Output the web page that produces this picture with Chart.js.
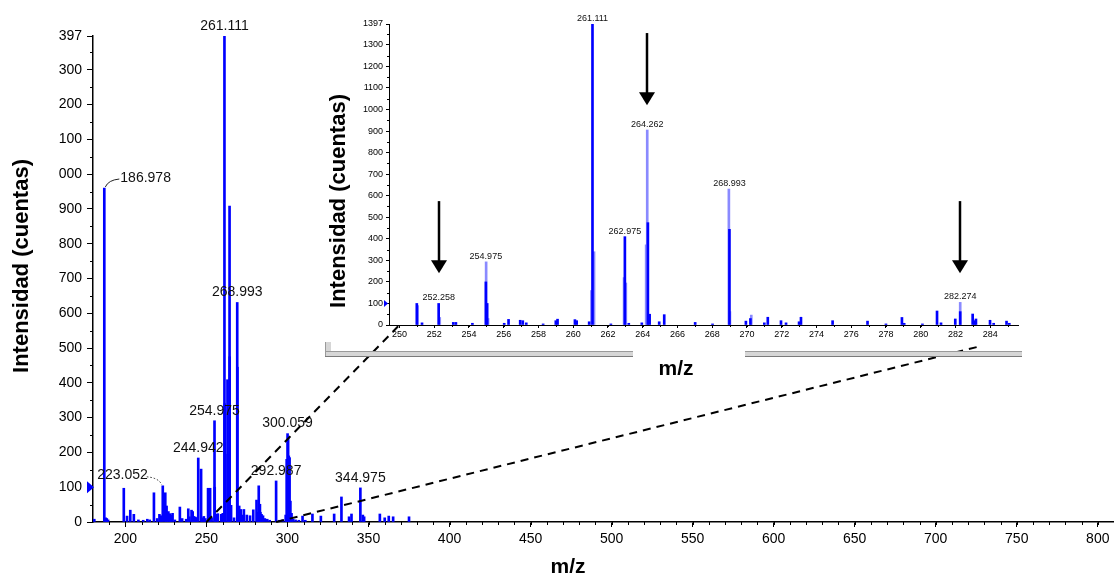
<!DOCTYPE html>
<html>
<head>
<meta charset="utf-8">
<script src="https://cdn.jsdelivr.net/npm/chart.js@4.4.0/dist/chart.umd.min.js"></script>
<style>
html, body { margin: 0; padding: 0; background: #fff; }
#wrap { position: relative; width: 1114px; height: 580px; overflow: hidden; }
#main { position: absolute; left: 0; top: 0; }
#inset { position: absolute; left: 300px; top: 0; }
</style>
</head>
<body>
<div id="wrap">
  <canvas id="main" width="1114" height="580"></canvas>
  <canvas id="inset" width="740" height="380"></canvas>
</div>
<script>
const FONT = 'Arial, "Liberation Sans", sans-serif';

// espectro completo (m/z, intensidad)
const mainMz = [180.8, 186.978, 187.8, 188.5, 189.3, 199.0, 201.0, 203.0, 205.2, 208.0, 211.0, 213.5, 215.0,
  217.6, 219.6, 221.0, 222.0, 223.052, 224.6, 225.4, 226.5, 227.4, 228.1, 229.1, 230.5, 233.6, 235.0, 237.5,
  238.8, 239.5, 240.8, 241.5, 242.3, 243.2, 244.0, 244.942, 246.7, 247.5, 248.4, 249.3, 251.0, 252.258, 253.2,
  254.975, 255.1, 256.3, 257.0, 259.1, 260.1, 261.111, 261.25, 262.975, 263.1, 264.262, 264.35, 265.2, 267.0,
  268.993, 269.1, 270.2, 271.2, 272.0, 273.1, 274.9, 276.9, 278.9, 280.9, 281.9, 282.274, 283.0, 283.3, 284.0,
  284.9, 286.0, 287.5, 289.0, 292.987, 295.0, 297.0, 298.9, 299.5, 300.059, 300.4, 300.8, 301.3, 301.8, 302.5,
  303.5, 305.0, 307.0, 309.3, 311.0, 315.4, 320.6, 328.8, 333.3, 338.0, 339.5, 344.975, 346.5, 347.3, 357.0,
  360.0, 362.5, 365.2, 375.0];
const mainInt = [8, 960, 12, 10, 6, 97, 17, 34, 22, 6, 5, 8, 6,
  84, 10, 22, 18, 104, 84, 46, 30, 24, 20, 25, 6, 43, 10, 8,
  38, 15, 34, 30, 16, 14, 12, 184, 152, 12, 16, 10, 97, 97, 12,
  291, 100, 22, 24, 22, 25, 1397, 340, 409, 195, 908, 475, 48, 12,
  631, 445, 46, 36, 20, 36, 20, 18, 35, 63, 28, 104, 51, 28, 22,
  18, 10, 8, 5, 118, 5, 6, 20, 180, 254, 245, 190, 185, 60, 25,
  8, 6, 5, 17, 5, 23, 17, 23, 72, 15, 23, 98, 20, 15, 23,
  12, 17, 15, 15];
const mainPeakLabels = [186.978, 223.052, 244.942, 254.975, 261.111, 268.993, 292.987, 300.059, 344.975];

const mainXTicks = [200, 250, 300, 350, 400, 450, 500, 550, 600, 650, 700, 750, 800];
const mainYTicks = [0, 100, 200, 300, 400, 500, 600, 700, 800, 900, 1000, 1100, 1200, 1300, 1397];
const mainYTickLabels = ['0', '100', '200', '300', '400', '500', '600', '700', '800', '900', '000', '100', '200', '300', '397'];

// ampliación 249-286
const insetMz = [251.0, 251.3, 252.258, 253.1, 253.25, 254.2, 254.975, 255.05, 256.03, 256.28, 256.95, 257.1, 257.3,
  258.27, 259.0, 259.1, 260.1, 260.2, 260.92, 261.111, 262.17, 262.975, 263.2, 263.95, 264.3, 264.4, 264.95, 265.24,
  267.02, 268.02, 268.993, 269.94, 270.2, 271.0, 271.2, 271.96, 272.25, 273.0, 273.11, 274.93, 276.94, 278.0,
  278.92, 279.05, 280.1, 280.94, 281.17, 281.99, 282.274, 282.99, 283.1, 283.18, 283.99, 284.2, 284.94, 285.1];
const insetInt = [100, 10, 100, 12, 12, 8, 200, 100, 8, 26, 22, 20, 10,
  5, 20, 27, 25, 20, 15, 1397, 5, 410, 8, 10, 475, 50, 15, 48,
  12, 5, 444, 18, 30, 10, 36, 20, 10, 15, 36, 20, 18, 5,
  35, 8, 5, 65, 10, 28, 62, 51, 20, 28, 22, 8, 18, 8];
const insetProfMz = [251.05, 252.32, 254.99, 255.1, 261.05, 261.2, 262.93, 263.03, 264.2, 264.262, 268.96, 269.02, 270.25, 282.274];
const insetProfInt = [90, 35, 293, 30, 160, 340, 220, 195, 372, 905, 631, 62, 46, 105];
const insetPeakLabels = [252.258, 254.975, 261.111, 262.975, 264.262, 268.993, 282.274];
const insetArrows = [[252.258, 575, 240], [264.262, 1355, 1020], [282.274, 575, 240]];

const insetXTicks = [250, 252, 254, 256, 258, 260, 262, 264, 266, 268, 270, 272, 274, 276, 278, 280, 282, 284];
const insetYTicks = [0, 100, 200, 300, 400, 500, 600, 700, 800, 900, 1000, 1100, 1200, 1300, 1397];

// lineas de zoom: [m/z principal, m/z ampliado, intensidad ampliada]
const zoomLinks = [[250, 250, 0], [293, 283.26, -102]];

function toPoints(xs, ys) {
    return xs.map((x, i) => ({ x: x, y: ys[i] }));
}

function peakTop(lists, mz) {
    let best = 0;
    lists.forEach(([xs, ys]) => {
        xs.forEach((m, i) => {
            if (Math.abs(m - mz) < 0.06 && ys[i] > best) best = ys[i];
        });
    });
    return best;
}

function minorTicks(ctx, scale, from, to, step, len, horizontal) {
    ctx.save();
    ctx.strokeStyle = '#000';
    ctx.lineWidth = 1;
    ctx.beginPath();
    const n = Math.round((to - from) / step);
    for (let i = 0; i <= n; i++) {
        const p = Math.round(scale.getPixelForValue(from + i * step)) + 0.5;
        if (horizontal) {
            ctx.moveTo(p, scale.top);
            ctx.lineTo(p, scale.top + len);
        } else {
            ctx.moveTo(scale.right, p);
            ctx.lineTo(scale.right - len, p);
        }
    }
    ctx.stroke();
    ctx.restore();
}

function rotatedText(ctx, text, x, y, font) {
    ctx.save();
    ctx.translate(x, y);
    ctx.rotate(-Math.PI / 2);
    ctx.font = font;
    ctx.fillStyle = '#000';
    ctx.textAlign = 'center';
    ctx.textBaseline = 'middle';
    ctx.fillText(text, 0, 0);
    ctx.restore();
}

function marker(ctx, x, y, w, h) {
    ctx.save();
    ctx.fillStyle = '#0000ff';
    ctx.beginPath();
    ctx.moveTo(x - w, y - h);
    ctx.lineTo(x, y);
    ctx.lineTo(x - w, y + h);
    ctx.closePath();
    ctx.fill();
    ctx.restore();
}

function axisStyle(size, tickLen, pad) {
    return {
        grid: { drawOnChartArea: false, offset: false, tickLength: tickLen, tickColor: '#000', tickWidth: 1 },
        border: { color: '#000', width: 1.5 },
        ticks: { font: { family: FONT, size: size }, color: '#000', padding: pad, maxRotation: 0, autoSkip: false }
    };
}

// ---------- inserto ----------
const insetDecor = {
    id: 'insetDecor',
    afterDraw(chart) {
        const ctx = chart.ctx;
        const xs = chart.scales.x, ys = chart.scales.y;
        minorTicks(ctx, xs, 250, 285, 1, 2, true);
        minorTicks(ctx, ys, 50, 1350, 100, 2, false);

        // marco gris
        ctx.save();
        ctx.fillStyle = '#d6d6d6';
        ctx.fillRect(25, 351, 308, 6);
        ctx.fillRect(445, 351, 277, 6);
        ctx.fillRect(25, 342, 6, 15);
        ctx.strokeStyle = '#9a9a9a';
        ctx.lineWidth = 1;
        ctx.beginPath();
        ctx.moveTo(25, 351.5); ctx.lineTo(333, 351.5);
        ctx.moveTo(445, 351.5); ctx.lineTo(722, 351.5);
        ctx.moveTo(25.5, 342); ctx.lineTo(25.5, 357);
        ctx.stroke();
        ctx.strokeStyle = '#7a7a7a';
        ctx.beginPath();
        ctx.moveTo(25, 356.5); ctx.lineTo(333, 356.5);
        ctx.moveTo(445, 356.5); ctx.lineTo(722, 356.5);
        ctx.stroke();
        ctx.restore();

        rotatedText(ctx, 'Intensidad (cuentas)', 39, 201, 'bold 22px ' + FONT);
        ctx.save();
        ctx.font = 'bold 21px ' + FONT;
        ctx.fillStyle = '#000';
        ctx.textAlign = 'center';
        ctx.textBaseline = 'middle';
        ctx.fillText('m/z', 376, 369);
        ctx.restore();

        marker(ctx, xs.left - 1, ys.getPixelForValue(100), 4, 3.5);

        // etiquetas de picos
        ctx.save();
        ctx.font = '9px ' + FONT;
        ctx.fillStyle = '#111';
        ctx.textAlign = 'center';
        ctx.textBaseline = 'bottom';
        insetPeakLabels.forEach(mz => {
            const top = peakTop([[insetMz, insetInt], [insetProfMz, insetProfInt]], mz);
            ctx.fillText(mz.toFixed(3), xs.getPixelForValue(mz), ys.getPixelForValue(top) - 1);
        });
        ctx.restore();

        // flechas
        ctx.save();
        ctx.fillStyle = '#000';
        ctx.strokeStyle = '#000';
        ctx.lineWidth = 2.5;
        insetArrows.forEach(([mz, from, to]) => {
            const x = Math.round(xs.getPixelForValue(mz));
            const y0 = ys.getPixelForValue(from), y1 = ys.getPixelForValue(to);
            ctx.beginPath();
            ctx.moveTo(x, y0);
            ctx.lineTo(x, y1 - 10);
            ctx.stroke();
            ctx.beginPath();
            ctx.moveTo(x - 8, y1 - 13);
            ctx.lineTo(x + 8, y1 - 13);
            ctx.lineTo(x, y1);
            ctx.closePath();
            ctx.fill();
        });
        ctx.restore();
    }
};

const insetAxes = {
    x: Object.assign({ type: 'linear', min: 249.4, max: 285.6, offset: false }, axisStyle(9, 3, 1)),
    y: Object.assign({ type: 'linear', min: 0, max: 1397 }, axisStyle(9, 3, 3))
};
insetAxes.x.border.width = 1;
insetAxes.y.border.width = 1;
insetAxes.x.afterBuildTicks = s => { s.ticks = insetXTicks.map(v => ({ value: v })); };
insetAxes.x.afterFit = s => { s.height = 55; };
insetAxes.x.ticks.callback = v => String(v);
insetAxes.y.afterBuildTicks = s => { s.ticks = insetYTicks.map(v => ({ value: v })); };
insetAxes.y.afterFit = s => { s.width = 89; };
insetAxes.y.ticks.callback = v => String(v);

const insetChart = new Chart(document.getElementById('inset'), {
    type: 'bar',
    data: {
        datasets: [
            { data: toPoints(insetMz, insetInt), backgroundColor: '#0000ff', barThickness: 2, grouped: false },
            { data: toPoints(insetProfMz, insetProfInt), backgroundColor: '#8a8aff', barThickness: 2, grouped: false }
        ]
    },
    options: {
        responsive: false,
        animation: false,
        events: [],
        layout: { padding: { top: 24, right: 22, left: 0, bottom: 0 } },
        plugins: { legend: { display: false }, tooltip: { enabled: false } },
        scales: insetAxes
    },
    plugins: [insetDecor]
});

// ---------- espectro principal ----------
const mainDecor = {
    id: 'mainDecor',
    afterDraw(chart) {
        const ctx = chart.ctx;
        const xs = chart.scales.x, ys = chart.scales.y;
        minorTicks(ctx, xs, 190, 800, 10, 3, true);
        minorTicks(ctx, ys, 50, 1350, 100, 3, false);

        rotatedText(ctx, 'Intensidad (cuentas)', 22, 266, 'bold 22px ' + FONT);
        ctx.save();
        ctx.font = 'bold 21px ' + FONT;
        ctx.fillStyle = '#000';
        ctx.textAlign = 'center';
        ctx.textBaseline = 'middle';
        ctx.fillText('m/z', 568, 567);
        ctx.restore();

        marker(ctx, xs.left + 1, ys.getPixelForValue(100), 7, 6);

        // etiquetas de picos
        ctx.save();
        ctx.font = '14px ' + FONT;
        ctx.fillStyle = '#111';
        ctx.strokeStyle = '#222';
        ctx.lineWidth = 1;
        mainPeakLabels.forEach(mz => {
            const x = xs.getPixelForValue(mz);
            const y = ys.getPixelForValue(peakTop([[mainMz, mainInt]], mz));
            const txt = mz.toFixed(3);
            if (mz === 186.978) {
                ctx.beginPath();
                ctx.moveTo(x + 1, y - 1);
                ctx.quadraticCurveTo(x + 4, y - 8, x + 15, y - 9);
                ctx.stroke();
                ctx.textAlign = 'left';
                ctx.textBaseline = 'middle';
                ctx.fillText(txt, x + 16, y - 10);
            } else if (mz === 223.052) {
                ctx.save();
                ctx.setLineDash([1.5, 2]);
                ctx.beginPath();
                ctx.moveTo(x - 16, y - 9);
                ctx.quadraticCurveTo(x - 4, y - 8, x - 1, y - 1);
                ctx.stroke();
                ctx.restore();
                ctx.textAlign = 'right';
                ctx.textBaseline = 'middle';
                ctx.fillText(txt, x - 15, y - 11);
            } else {
                ctx.textAlign = 'center';
                ctx.textBaseline = 'bottom';
                ctx.fillText(txt, x, y - 3);
            }
        });
        ctx.restore();

        // lineas discontinuas hacia la ampliación
        const ix = insetChart.scales.x, iy = insetChart.scales.y;
        const off = document.getElementById('inset').offsetLeft;
        ctx.save();
        ctx.strokeStyle = '#000';
        ctx.lineWidth = 2;
        ctx.setLineDash([8, 6]);
        zoomLinks.forEach(([m0, m1, v1]) => {
            ctx.beginPath();
            ctx.moveTo(xs.getPixelForValue(m0), ys.getPixelForValue(0));
            ctx.lineTo(off + ix.getPixelForValue(m1), iy.getPixelForValue(v1));
            ctx.stroke();
        });
        ctx.restore();
    }
};

const mainAxes = {
    x: Object.assign({ type: 'linear', min: 180, max: 810, offset: false }, axisStyle(14, 5, 4)),
    y: Object.assign({ type: 'linear', min: 0, max: 1397 }, axisStyle(14, 6, 5))
};
mainAxes.x.afterBuildTicks = s => { s.ticks = mainXTicks.map(v => ({ value: v })); };
mainAxes.x.afterFit = s => { s.height = 58; };
mainAxes.x.ticks.callback = v => String(v);
mainAxes.y.afterBuildTicks = s => { s.ticks = mainYTicks.map(v => ({ value: v })); };
mainAxes.y.afterFit = s => { s.width = 93; };
mainAxes.y.ticks.callback = (v, i) => mainYTickLabels[i];

const mainChart = new Chart(document.getElementById('main'), {
    type: 'bar',
    data: {
        datasets: [
            { data: toPoints(mainMz, mainInt), backgroundColor: '#0000ff', barThickness: 2, grouped: false }
        ]
    },
    options: {
        responsive: false,
        animation: false,
        events: [],
        layout: { padding: { top: 36, right: 0, left: 0, bottom: 0 } },
        plugins: { legend: { display: false }, tooltip: { enabled: false } },
        scales: mainAxes
    },
    plugins: [mainDecor]
});
</script>
</body>
</html>
